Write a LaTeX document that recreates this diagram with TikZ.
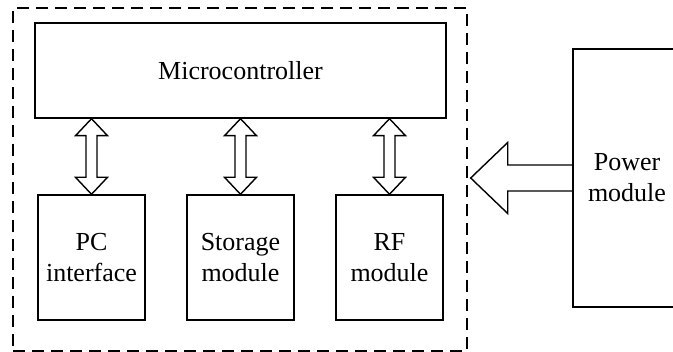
\documentclass[tikz,border=0pt]{standalone}
\usepackage{fontspec}
\setmainfont{Liberation Serif}
\usepackage{tikz}
\usetikzlibrary{calc, positioning}
\tikzset{>=latex}
\newcommand{\busarrow}[2]{%
\coordinate (t) at (#1); \coordinate (b) at (#2);
\draw[line join=miter] (t) -- ++(16,17) -- ++(-10.5,0) -- ($(b)+(5.5,-17)$) -- ++(10.5,0) -- (b) -- ++(-16,-17) -- ++(10.5,0) -- ($(t)+(-5.5,17)$) -- ++(-10.5,0) -- cycle;}

\begin{document}
\begin{tikzpicture}[x=0.5pt, y=-0.5pt, line width=0.7pt,
  box/.style={draw, rectangle, align=center, inner sep=0pt, font=\fontsize{13}{15.5}\selectfont},
  unit/.style={box, minimum width=53.5pt, minimum height=62.5pt}]
\path[use as bounding box, clip] (0,0) rectangle (673,352);
% dashed frame round the board
\node[draw, dash pattern=on 6pt off 3.5pt, minimum width=227pt, minimum height=171.5pt] (frame) at (240,179.5) {};
\node[box, minimum width=205.5pt, minimum height=47.5pt] (mcu) at (240.5,70.5) {Microcontroller};
\node[unit] (pc) at (91.5,257.5) {PC\\interface};
\node[unit, right=20.3pt of pc] (storage) {Storage\\module};
\node[unit, right=20.3pt of storage] (rf) {RF\\module};
\node[box, minimum width=54pt, minimum height=129pt] (power) at (627,178) {Power\\module};
% buses
\busarrow{mcu.south -| pc.north}{pc.north}
\busarrow{mcu.south -| storage.north}{storage.north}
\busarrow{mcu.south -| rf.north}{rf.north}
% supply
\path (frame.east |- power.west) ++(3,0) coordinate (tip);
\draw[line join=miter] ($(power.west)+(0,-13)$) -- ($(tip)+(37,-13)$) -- ($(tip)+(37,-35.5)$) -- (tip) -- ($(tip)+(37,35.5)$) -- ($(tip)+(37,13)$) -- ($(power.west)+(0,13)$);
\end{tikzpicture}
\end{document}
